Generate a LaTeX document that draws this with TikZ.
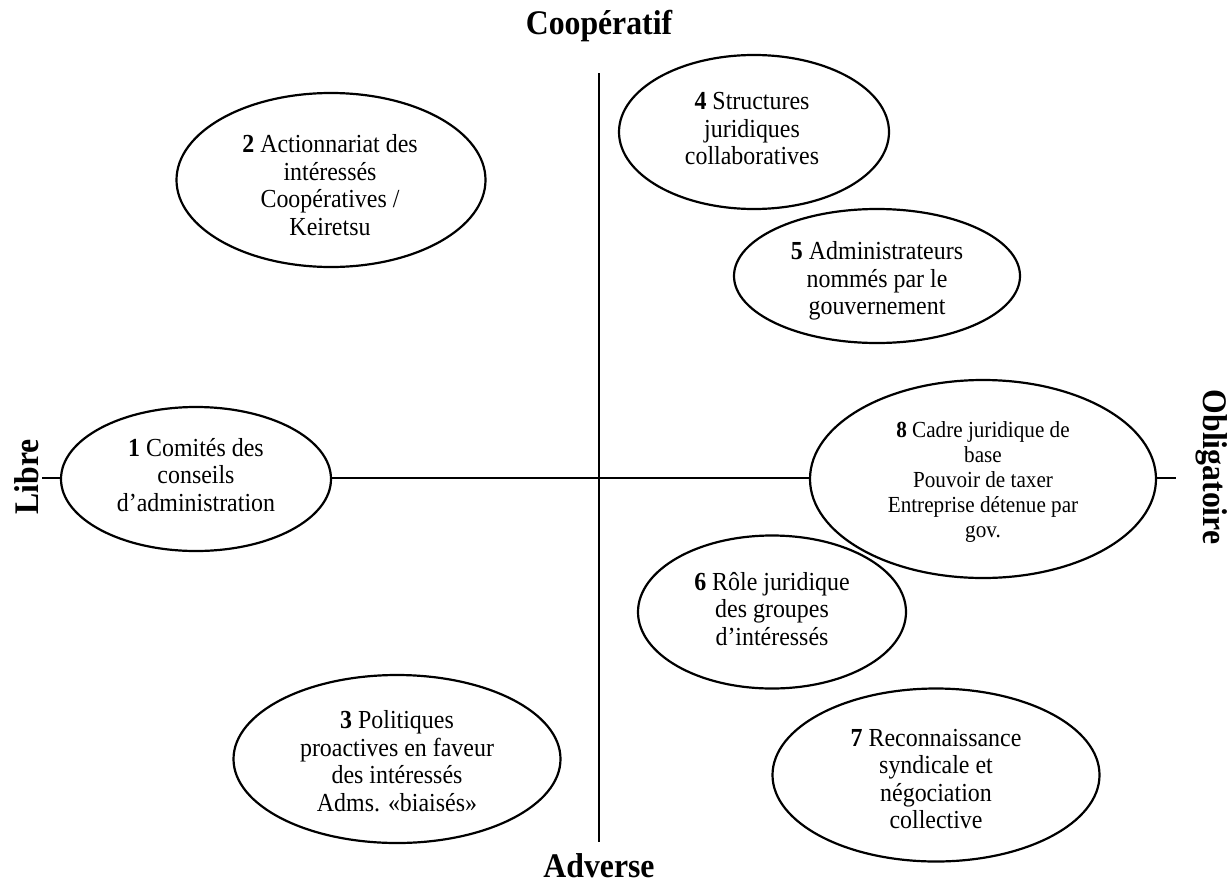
\documentclass[tikz,border=0pt]{standalone}
\usepackage{fontspec}
\setmainfont{Liberation Serif}[FakeStretch=0.92]
\usetikzlibrary{shapes.geometric}
\begin{document}
\begin{tikzpicture}[x=1pt,y=-1pt,
  oval/.style={draw, ellipse, line width=2.2pt, inner sep=0pt},
  txt/.style={align=center, inner sep=0pt, font=\fontsize{26}{27.5}\selectfont},
  smalltxt/.style={align=center, inner sep=0pt, font=\fontsize{23}{25}\selectfont},
  axislabel/.style={inner sep=0pt, font=\bfseries\fontsize{34.5}{38}\selectfont},
  axis/.style={line width=1.6pt}]
\useasboundingbox (0,0) rectangle (1231,886);
\coordinate (L) at (42,478);
\coordinate (R) at (1176,478);
\coordinate (T) at (599,73);
\coordinate (B) at (599,842);
\draw[axis] (L) -- (R);
\draw[axis] (T) -- (B);
\node[axislabel] (coop) at (599,26) {Coopératif};
\node[axislabel] (adv) at (599,866) {Adverse};
\node[axislabel, rotate=90] (libre) at (27,477) {Libre};
\node[axislabel, rotate=-90] (oblig) at (1212,467) {Obligatoire};
\node[oval, fill=white, minimum width=270, minimum height=144] (e1) at (196,479) {};
\node[oval, fill=white, minimum width=309, minimum height=174] (e2) at (331,180) {};
\node[oval, fill=white, minimum width=327, minimum height=168] (e3) at (397,759) {};
\node[oval, fill=white, minimum width=270, minimum height=154] (e4) at (754,132) {};
\node[oval, fill=white, minimum width=286, minimum height=134] (e5) at (877,276) {};
\node[oval, fill=white, minimum width=346, minimum height=198] (e8) at (983,479) {};
\node[oval, minimum width=268, minimum height=153] (e6) at (772,612) {};
\node[oval, fill=white, minimum width=327, minimum height=173] (e7) at (936,775) {};
\node[txt] (t1) at (196,475) {\textbf{1} Comités des\\conseils\\d’administration};
\node[txt] (t2) at (330,185) {\textbf{2} Actionnariat des\\intéressés\\Coopératives /\\Keiretsu};
\node[txt] (t3) at (397,761) {\textbf{3} Politiques\\proactives en faveur\\des intéressés\\Adms. «biaisés»};
\node[txt] (t4) at (752,129) {\textbf{4} Structures\\juridiques\\collaboratives};
\node[txt] (t5) at (877,281) {\textbf{5} Administrateurs\\nommés par le\\gouvernement};
\node[txt] (t6) at (772,609) {\textbf{6} Rôle juridique\\des groupes\\d’intéressés};
\node[txt] (t7) at (936,779) {\textbf{7} Reconnaissance\\syndicale et\\négociation\\collective};
\node[smalltxt] (t8) at (983,482) {\textbf{8} Cadre juridique de\\base\\Pouvoir de taxer\\Entreprise détenue par\\gov.};
\end{tikzpicture}
\end{document}
